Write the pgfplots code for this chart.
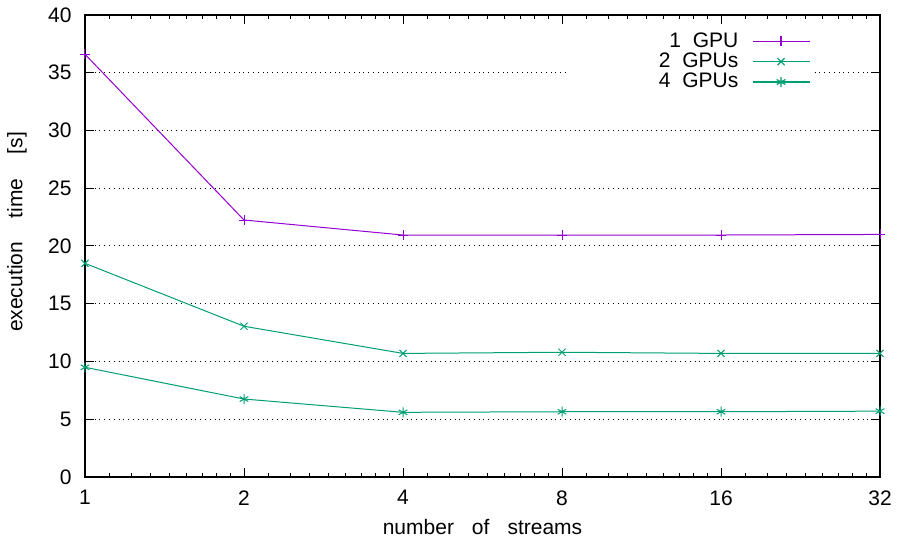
\documentclass[border=0pt]{standalone}
\usepackage{fontspec}
\setmainfont{Liberation Sans}
\usepackage{pgfplots}
\pgfplotsset{compat=1.18}
\definecolor{gpurple}{RGB}{148,0,211}
\definecolor{ggreen}{RGB}{0,158,115}

\begin{document}
\fontsize{10.5}{12.5}\selectfont
\begin{tikzpicture}
% 1 px of the reference = 0.5pt; axis box lower left at the origin
\useasboundingbox (-42.5pt,-31pt) rectangle (410pt,238.5pt);
% x is log2(number of streams): 0..5 stand for 1,2,4,...,32
\begin{axis}[
    anchor=south west,
    at={(0pt,0pt)},
    scale only axis,
    width=397.5pt,
    height=231pt,
    xmin=0, xmax=5,
    ymin=0, ymax=40,
    xtick={0,1,2,3,4,5},
    xticklabels={1,2,4,8,16,32},
    minor xtick={0.152,0.290,0.415,0.531,0.637,0.737,0.830,0.918,
                 1.152,1.290,1.415,1.531,1.637,1.737,1.830,1.918,
                 2.152,2.290,2.415,2.531,2.637,2.737,2.830,2.918,
                 3.152,3.290,3.415,3.531,3.637,3.737,3.830,3.918,
                 4.152,4.290,4.415,4.531,4.637,4.737,4.830,4.918},
    ytick={0,5,...,40},
    /pgf/number format/assume math mode=true,
    tick align=inside,
    major tick length=4.5pt,
    minor tick length=2pt,
    tick style={black, line width=0.5pt},
    axis line style={black, line width=0.9pt},
    ymajorgrids,
    major grid style={black, dotted, line width=0.5pt},
    xticklabel style={yshift=-3pt},
    yticklabel style={xshift=-3pt},
    xlabel={number\hspace{9pt}of\hspace{9pt}streams},
    ylabel={execution\hspace{12pt}time\hspace{12pt}[s]},
    xlabel style={at={(rel axis cs:0.5,0)}, anchor=center, yshift=-25pt},
    ylabel style={at={(rel axis cs:0,0.5)}, anchor=center, yshift=34pt, xshift=7pt},
    legend plot pos=right,
    legend cell align=right,
    legend style={at={(rel axis cs:0.916,0.976)}, anchor=north east,
        draw=none, fill=white, inner sep=1pt, row sep=-2.75pt,
        font=\fontsize{10.5}{12.5}\selectfont},
    legend image code/.code={
        \draw[line width=0.75pt] (0pt,0pt) -- (28.5pt,0pt);
        \draw[line width=0.6pt] plot[mark repeat=1] coordinates {(14pt,0pt)};},
]
\addplot[color=gpurple, line width=0.5pt, mark=+, mark size=2.5pt]
    coordinates {(0,36.6) (1,22.25) (2,20.95) (3,20.95) (4,20.95) (5,21.0)};
\addlegendentry{\makebox[88pt][r]{1\ \ GPU\hspace{5pt}}}
\addplot[color=ggreen, line width=0.5pt, mark=x, mark size=2.5pt]
    coordinates {(0,18.5) (1,13.05) (2,10.7) (3,10.8) (4,10.7) (5,10.7)};
\addlegendentry{\makebox[88pt][r]{2\ \ GPUs\hspace{5pt}}}
\addplot[color=ggreen, line width=0.5pt, mark=asterisk, mark size=2.5pt]
    coordinates {(0,9.5) (1,6.75) (2,5.6) (3,5.65) (4,5.65) (5,5.7)};
\addlegendentry{\makebox[88pt][r]{4\ \ GPUs\hspace{5pt}}}
\end{axis}
\end{tikzpicture}
\end{document}
